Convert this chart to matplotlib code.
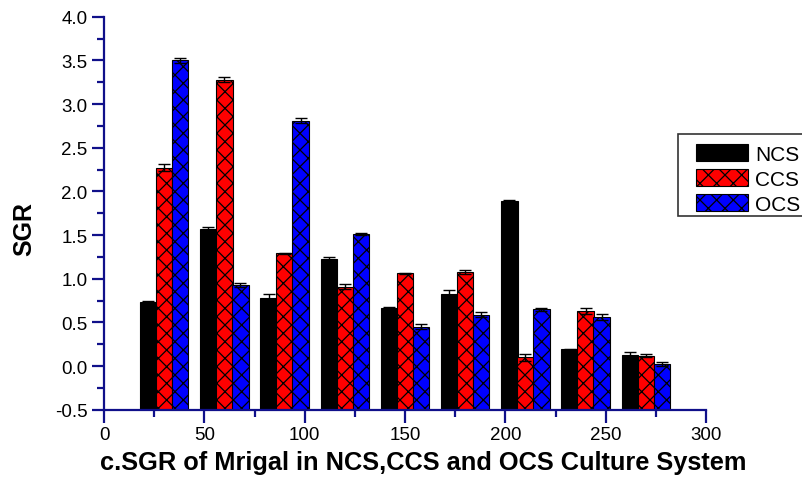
import numpy as np
import matplotlib
matplotlib.use("Agg")
import matplotlib.pyplot as plt
from matplotlib.ticker import MultipleLocator, FormatStrFormatter
from matplotlib.legend_handler import HandlerPatch
from matplotlib.patches import Rectangle

# values
days = [30, 60, 90, 120, 150, 180, 210, 240, 270]
ncs = [0.73, 1.57, 0.78, 1.22, 0.66, 0.83, 1.89, 0.19, 0.13]
ccs = [2.27, 3.28, 1.29, 0.91, 1.06, 1.08, 0.10, 0.63, 0.12]
ocs = [3.50, 0.93, 2.81, 1.51, 0.45, 0.59, 0.65, 0.56, 0.02]
ncs_err = [0.01, 0.02, 0.04, 0.03, 0.02, 0.04, 0.01, 0.005, 0.025]
ccs_err = [0.04, 0.025, 0.01, 0.03, 0.01, 0.025, 0.04, 0.03, 0.02]
ocs_err = [0.03, 0.02, 0.03, 0.01, 0.03, 0.03, 0.02, 0.035, 0.025]
series_names = ["NCS", "CCS", "OCS"]

plt.rcParams['font.family'] = ['Liberation Sans', 'DejaVu Sans']
plt.rcParams['hatch.linewidth'] = 0.9

axis_blue = "#10108a"
base = -0.5
width = 8.2

fig = plt.figure(figsize=(8.02, 4.81), dpi=100)
ax = fig.add_axes([104 / 802, 1 - 410.7 / 481, 602 / 802, 393 / 481])

x = np.array(days, dtype=float)
styles = [("black", None), ("#ff0000", "xx"), ("#0000ff", "xx")]
handles = []
for offset, vals, errs, name, (color, hatch) in zip(
        [-8, 0, 8], [ncs, ccs, ocs], [ncs_err, ccs_err, ocs_err],
        series_names, styles):
    vals = np.array(vals)
    b = ax.bar(x + offset, vals - base, bottom=base, width=width,
               color=color, edgecolor="black", linewidth=0.8, hatch=hatch,
               label=name, zorder=2)
    handles.append(b.patches[0])
    ax.errorbar(x + offset, vals, yerr=errs, fmt="none", ecolor="black",
                elinewidth=1.0, capsize=4, capthick=1.0, zorder=3)

ax.set_xlim(0, 300)
ax.set_ylim(-0.5, 4.0)
ax.xaxis.set_major_locator(MultipleLocator(50))
ax.xaxis.set_minor_locator(MultipleLocator(25))
ax.yaxis.set_major_locator(MultipleLocator(0.5))
ax.yaxis.set_minor_locator(MultipleLocator(0.25))
ax.yaxis.set_major_formatter(FormatStrFormatter("%.1f"))

for side in ["top", "right"]:
    ax.spines[side].set_visible(False)
for side in ["left", "bottom"]:
    ax.spines[side].set_color(axis_blue)
    ax.spines[side].set_linewidth(1.6)

ax.tick_params(which="major", direction="out", length=9, width=1.6,
               color=axis_blue, labelsize=13.5, labelcolor="black", pad=3)
ax.tick_params(which="minor", direction="out", length=5, width=1.6,
               color=axis_blue)

ax.set_ylabel("SGR", fontsize=18, fontweight="bold")
ax.yaxis.set_label_coords(-0.112, 0.462)
ax.set_xlabel("c.SGR of Mrigal in NCS,CCS and OCS Culture System",
              fontsize=18.3, fontweight="bold")
ax.xaxis.set_label_coords(0.53, -0.102)

# legend box sits outside the axes and runs off the right edge
fs_px = 15 * 100 / 72
frame = Rectangle((678 / 802, 1 - 216.7 / 481), 0.2, (216.7 - 135) / 481,
                  transform=fig.transFigure, facecolor="white",
                  edgecolor="#333333", linewidth=1.2, zorder=4)
fig.add_artist(frame)
leg = fig.legend(handles=handles, labels=series_names, loc="upper left",
                 bbox_to_anchor=(678 / 802, 1 - 135 / 481),
                 borderaxespad=0, fontsize=15, frameon=False,
                 handlelength=59.7 / fs_px, handleheight=18 / fs_px,
                 handletextpad=0.34, labelspacing=0.25, borderpad=0.5,
                 handler_map={Rectangle: HandlerPatch(xpad=8 / fs_px)})
leg.set_zorder(5)

fig.savefig("out.png", dpi=100)
